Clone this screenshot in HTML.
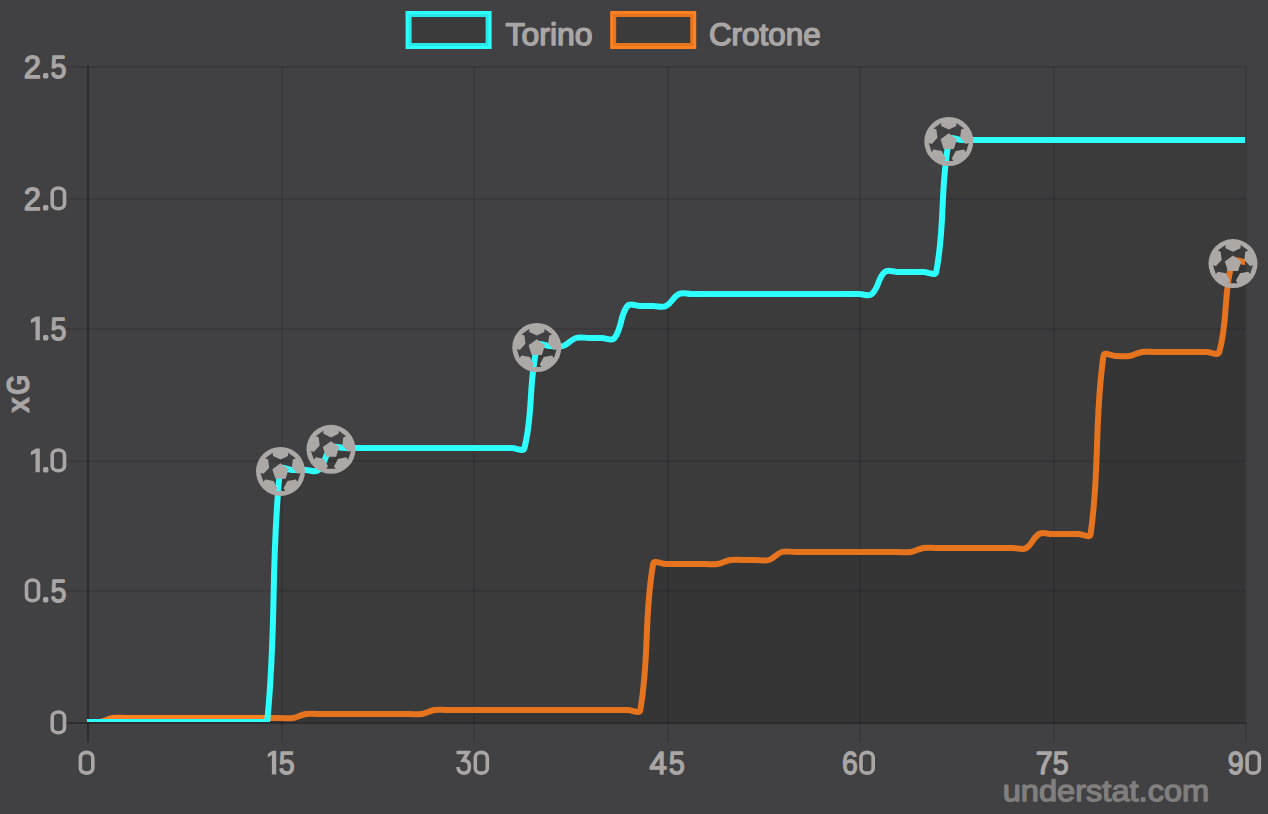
<!DOCTYPE html>
<html><head><meta charset="utf-8"><title>xG chart</title>
<style>
html,body{margin:0;padding:0;background:#414143;}
body{width:1268px;height:814px;overflow:hidden;font-family:"Liberation Sans",sans-serif;}
svg{display:block;font-family:"Liberation Sans",sans-serif;text-rendering:geometricPrecision;}
</style></head><body>
<svg width="1268" height="814" viewBox="0 0 1268 814">
<defs>
<clipPath id="ca"><rect x="87.0" y="66.0" width="1158.0" height="656.0"/></clipPath>
</defs>
<rect width="1268" height="814" fill="#414143"/>
<!-- grid -->
<rect x="67" y="66" width="1179" height="2" fill="rgba(0,0,0,0.10)"/>
<rect x="67" y="198" width="1179" height="2" fill="rgba(0,0,0,0.10)"/>
<rect x="67" y="328" width="1179" height="2" fill="rgba(0,0,0,0.10)"/>
<rect x="67" y="460" width="1179" height="2" fill="rgba(0,0,0,0.10)"/>
<rect x="67" y="590" width="1179" height="2" fill="rgba(0,0,0,0.10)"/>
<rect x="67" y="722" width="1179" height="2" fill="rgba(0,0,0,0.31)"/>
<rect x="87" y="66" width="2" height="676" fill="rgba(0,0,0,0.31)"/>
<rect x="281" y="66" width="2" height="676" fill="rgba(0,0,0,0.10)"/>
<rect x="473" y="66" width="2" height="676" fill="rgba(0,0,0,0.10)"/>
<rect x="667" y="66" width="2" height="676" fill="rgba(0,0,0,0.10)"/>
<rect x="859" y="66" width="2" height="676" fill="rgba(0,0,0,0.10)"/>
<rect x="1053" y="66" width="2" height="676" fill="rgba(0,0,0,0.10)"/>
<rect x="1245" y="66" width="2" height="676" fill="rgba(0,0,0,0.10)"/>
<!-- Crotone -->
<g clip-path="url(#ca)">
<path d="M87.00 722.00L99.87 722.00C105.13 721.18 107.47 718.82 112.73 718.00C117.76 717.22 120.45 718.00 125.60 718.00L138.47 718.00L151.33 718.00L164.20 718.00L177.07 718.00L189.93 718.00L202.80 718.00L215.67 718.00L228.53 718.00L241.40 718.00L254.27 718.00L267.13 718.00L280.00 718.00C285.15 718.00 287.84 718.78 292.87 718.00C298.13 717.18 300.47 714.82 305.73 714.00C310.76 713.22 313.45 714.00 318.60 714.00L331.47 714.00L344.33 714.00L357.20 714.00L370.07 714.00L382.93 714.00L395.80 714.00L408.67 714.00C413.81 714.00 416.51 714.78 421.53 714.00C426.80 713.18 429.13 710.82 434.40 710.00C439.43 709.22 442.12 710.00 447.27 710.00L460.13 710.00L473.00 710.00L485.87 710.00L498.73 710.00L511.60 710.00L524.47 710.00L537.33 710.00L550.20 710.00L563.07 710.00L575.93 710.00L588.80 710.00L601.67 710.00L614.53 710.00L627.40 710.00C632.55 710.00 639.44 714.71 640.27 710.00C649.73 656.31 643.67 617.69 653.13 564.00C653.96 559.29 660.85 564.00 666.00 564.00L678.87 564.00L691.73 564.00L704.60 564.00C709.75 564.00 712.44 564.78 717.47 564.00C722.73 563.18 725.07 560.82 730.33 560.00C735.36 559.22 738.05 560.00 743.20 560.00L756.07 560.00C761.21 560.00 764.21 561.47 768.93 560.00C774.50 558.27 776.23 553.73 781.80 552.00C786.53 550.53 789.52 552.00 794.67 552.00L807.53 552.00L820.40 552.00L833.27 552.00L846.13 552.00L859.00 552.00L871.87 552.00L884.73 552.00L897.60 552.00C902.75 552.00 905.44 552.78 910.47 552.00C915.73 551.18 918.07 548.82 923.33 548.00C928.36 547.22 931.05 548.00 936.20 548.00L949.07 548.00L961.93 548.00L974.80 548.00L987.67 548.00L1000.53 548.00L1013.40 548.00C1018.55 548.00 1022.11 550.26 1026.27 548.00C1032.41 544.66 1032.99 537.34 1039.13 534.00C1043.29 531.74 1046.85 534.00 1052.00 534.00L1064.87 534.00L1077.73 534.00C1082.88 534.00 1089.91 538.79 1090.60 534.00C1100.20 467.59 1093.87 422.41 1103.47 356.00C1104.16 351.21 1111.19 356.00 1116.33 356.00C1121.48 356.00 1124.17 356.78 1129.20 356.00C1134.47 355.18 1136.80 352.82 1142.07 352.00C1147.09 351.22 1149.79 352.00 1154.93 352.00L1167.80 352.00L1180.67 352.00L1193.53 352.00L1206.40 352.00C1211.55 352.00 1217.99 356.46 1219.27 352.00C1228.28 320.46 1223.12 293.54 1232.13 262.00C1233.41 257.54 1239.85 262.00 1245.00 262.00L1245.00 722.00L87.00 722.00Z" fill="rgba(0,0,0,0.09)"/>
<path d="M87.00 722.00L99.87 722.00C105.13 721.18 107.47 718.82 112.73 718.00C117.76 717.22 120.45 718.00 125.60 718.00L138.47 718.00L151.33 718.00L164.20 718.00L177.07 718.00L189.93 718.00L202.80 718.00L215.67 718.00L228.53 718.00L241.40 718.00L254.27 718.00L267.13 718.00L280.00 718.00C285.15 718.00 287.84 718.78 292.87 718.00C298.13 717.18 300.47 714.82 305.73 714.00C310.76 713.22 313.45 714.00 318.60 714.00L331.47 714.00L344.33 714.00L357.20 714.00L370.07 714.00L382.93 714.00L395.80 714.00L408.67 714.00C413.81 714.00 416.51 714.78 421.53 714.00C426.80 713.18 429.13 710.82 434.40 710.00C439.43 709.22 442.12 710.00 447.27 710.00L460.13 710.00L473.00 710.00L485.87 710.00L498.73 710.00L511.60 710.00L524.47 710.00L537.33 710.00L550.20 710.00L563.07 710.00L575.93 710.00L588.80 710.00L601.67 710.00L614.53 710.00L627.40 710.00C632.55 710.00 639.44 714.71 640.27 710.00C649.73 656.31 643.67 617.69 653.13 564.00C653.96 559.29 660.85 564.00 666.00 564.00L678.87 564.00L691.73 564.00L704.60 564.00C709.75 564.00 712.44 564.78 717.47 564.00C722.73 563.18 725.07 560.82 730.33 560.00C735.36 559.22 738.05 560.00 743.20 560.00L756.07 560.00C761.21 560.00 764.21 561.47 768.93 560.00C774.50 558.27 776.23 553.73 781.80 552.00C786.53 550.53 789.52 552.00 794.67 552.00L807.53 552.00L820.40 552.00L833.27 552.00L846.13 552.00L859.00 552.00L871.87 552.00L884.73 552.00L897.60 552.00C902.75 552.00 905.44 552.78 910.47 552.00C915.73 551.18 918.07 548.82 923.33 548.00C928.36 547.22 931.05 548.00 936.20 548.00L949.07 548.00L961.93 548.00L974.80 548.00L987.67 548.00L1000.53 548.00L1013.40 548.00C1018.55 548.00 1022.11 550.26 1026.27 548.00C1032.41 544.66 1032.99 537.34 1039.13 534.00C1043.29 531.74 1046.85 534.00 1052.00 534.00L1064.87 534.00L1077.73 534.00C1082.88 534.00 1089.91 538.79 1090.60 534.00C1100.20 467.59 1093.87 422.41 1103.47 356.00C1104.16 351.21 1111.19 356.00 1116.33 356.00C1121.48 356.00 1124.17 356.78 1129.20 356.00C1134.47 355.18 1136.80 352.82 1142.07 352.00C1147.09 351.22 1149.79 352.00 1154.93 352.00L1167.80 352.00L1180.67 352.00L1193.53 352.00L1206.40 352.00C1211.55 352.00 1217.99 356.46 1219.27 352.00C1228.28 320.46 1223.12 293.54 1232.13 262.00C1233.41 257.54 1239.85 262.00 1245.00 262.00" fill="none" stroke="#fd8021" stroke-width="6" stroke-linejoin="miter" stroke-linecap="butt"/>
</g>
<!-- Torino -->
<g clip-path="url(#ca)">
<path d="M87.00 722.00L99.87 722.00L112.73 722.00L125.60 722.00L138.47 722.00L151.33 722.00L164.20 722.00L177.07 722.00L189.93 722.00L202.80 722.00L215.67 722.00L228.53 722.00L241.40 722.00L254.27 722.00L267.13 722.00C276.93 626.09 270.21 565.91 280.00 470.00C280.50 465.11 287.72 470.00 292.87 470.00L305.73 470.00C310.88 470.00 315.15 472.95 318.60 470.00C325.44 464.15 324.63 453.85 331.47 448.00C334.92 445.05 339.19 448.00 344.33 448.00L357.20 448.00L370.07 448.00L382.93 448.00L395.80 448.00L408.67 448.00L421.53 448.00L434.40 448.00L447.27 448.00L460.13 448.00L473.00 448.00L485.87 448.00L498.73 448.00L511.60 448.00C516.75 448.00 523.32 452.54 524.47 448.00C533.62 411.74 528.18 382.26 537.33 346.00C538.48 341.46 545.05 346.00 550.20 346.00C555.35 346.00 558.34 347.47 563.07 346.00C568.63 344.27 570.37 339.73 575.93 338.00C580.66 336.53 583.65 338.00 588.80 338.00L601.67 338.00C606.81 338.00 611.74 341.48 614.53 338.00C622.03 328.68 619.90 315.32 627.40 306.00C630.20 302.52 635.12 306.00 640.27 306.00L653.13 306.00C658.28 306.00 661.65 308.03 666.00 306.00C671.95 303.23 672.92 296.77 678.87 294.00C683.21 291.97 686.59 294.00 691.73 294.00L704.60 294.00L717.47 294.00L730.33 294.00L743.20 294.00L756.07 294.00L768.93 294.00L781.80 294.00L794.67 294.00L807.53 294.00L820.40 294.00L833.27 294.00L846.13 294.00L859.00 294.00C864.15 294.00 868.41 296.95 871.87 294.00C878.71 288.15 877.89 277.85 884.73 272.00C888.19 269.05 892.45 272.00 897.60 272.00L910.47 272.00L923.33 272.00C928.48 272.00 935.29 276.67 936.20 272.00C945.58 223.87 939.68 188.13 949.07 140.00C949.98 135.33 956.79 140.00 961.93 140.00L974.80 140.00L987.67 140.00L1000.53 140.00L1013.40 140.00L1026.27 140.00L1039.13 140.00L1052.00 140.00L1064.87 140.00L1077.73 140.00L1090.60 140.00L1103.47 140.00L1116.33 140.00L1129.20 140.00L1142.07 140.00L1154.93 140.00L1167.80 140.00L1180.67 140.00L1193.53 140.00L1206.40 140.00L1219.27 140.00L1232.13 140.00L1245.00 140.00L1245.00 722.00L87.00 722.00Z" fill="rgba(0,0,0,0.09)"/>
<path d="M87.00 722.00L99.87 722.00L112.73 722.00L125.60 722.00L138.47 722.00L151.33 722.00L164.20 722.00L177.07 722.00L189.93 722.00L202.80 722.00L215.67 722.00L228.53 722.00L241.40 722.00L254.27 722.00L267.13 722.00C276.93 626.09 270.21 565.91 280.00 470.00C280.50 465.11 287.72 470.00 292.87 470.00L305.73 470.00C310.88 470.00 315.15 472.95 318.60 470.00C325.44 464.15 324.63 453.85 331.47 448.00C334.92 445.05 339.19 448.00 344.33 448.00L357.20 448.00L370.07 448.00L382.93 448.00L395.80 448.00L408.67 448.00L421.53 448.00L434.40 448.00L447.27 448.00L460.13 448.00L473.00 448.00L485.87 448.00L498.73 448.00L511.60 448.00C516.75 448.00 523.32 452.54 524.47 448.00C533.62 411.74 528.18 382.26 537.33 346.00C538.48 341.46 545.05 346.00 550.20 346.00C555.35 346.00 558.34 347.47 563.07 346.00C568.63 344.27 570.37 339.73 575.93 338.00C580.66 336.53 583.65 338.00 588.80 338.00L601.67 338.00C606.81 338.00 611.74 341.48 614.53 338.00C622.03 328.68 619.90 315.32 627.40 306.00C630.20 302.52 635.12 306.00 640.27 306.00L653.13 306.00C658.28 306.00 661.65 308.03 666.00 306.00C671.95 303.23 672.92 296.77 678.87 294.00C683.21 291.97 686.59 294.00 691.73 294.00L704.60 294.00L717.47 294.00L730.33 294.00L743.20 294.00L756.07 294.00L768.93 294.00L781.80 294.00L794.67 294.00L807.53 294.00L820.40 294.00L833.27 294.00L846.13 294.00L859.00 294.00C864.15 294.00 868.41 296.95 871.87 294.00C878.71 288.15 877.89 277.85 884.73 272.00C888.19 269.05 892.45 272.00 897.60 272.00L910.47 272.00L923.33 272.00C928.48 272.00 935.29 276.67 936.20 272.00C945.58 223.87 939.68 188.13 949.07 140.00C949.98 135.33 956.79 140.00 961.93 140.00L974.80 140.00L987.67 140.00L1000.53 140.00L1013.40 140.00L1026.27 140.00L1039.13 140.00L1052.00 140.00L1064.87 140.00L1077.73 140.00L1090.60 140.00L1103.47 140.00L1116.33 140.00L1129.20 140.00L1142.07 140.00L1154.93 140.00L1167.80 140.00L1180.67 140.00L1193.53 140.00L1206.40 140.00L1219.27 140.00L1232.13 140.00L1245.00 140.00" fill="none" stroke="#2dfffe" stroke-width="6" stroke-linejoin="miter" stroke-linecap="butt"/>
</g>
<!-- goals -->
<path fill="#aba8a6" fill-rule="evenodd" transform="translate(280.50 471.40) scale(24.50)" d="M-1 0A1 1 0 1 0 1 0A1 1 0 1 0 -1 0ZM-0.000 -0.485L0.307 -0.630L0.315 -0.757L0.623 -0.534L0.504 -0.487L0.461 -0.150L0.694 0.097L0.818 0.066L0.700 0.427L0.619 0.329L0.285 0.392L0.122 0.690L0.190 0.798L-0.190 0.798L-0.122 0.690L-0.285 0.392L-0.619 0.329L-0.700 0.427L-0.818 0.066L-0.694 0.097L-0.461 -0.150L-0.504 -0.487L-0.623 -0.534L-0.315 -0.757L-0.307 -0.630ZM0.000 -0.332L0.335 -0.089L0.207 0.305L-0.207 0.305L-0.335 -0.089Z"/>
<path fill="#aba8a6" fill-rule="evenodd" transform="translate(331.00 449.30) scale(24.50)" d="M-1 0A1 1 0 1 0 1 0A1 1 0 1 0 -1 0ZM-0.000 -0.485L0.307 -0.630L0.315 -0.757L0.623 -0.534L0.504 -0.487L0.461 -0.150L0.694 0.097L0.818 0.066L0.700 0.427L0.619 0.329L0.285 0.392L0.122 0.690L0.190 0.798L-0.190 0.798L-0.122 0.690L-0.285 0.392L-0.619 0.329L-0.700 0.427L-0.818 0.066L-0.694 0.097L-0.461 -0.150L-0.504 -0.487L-0.623 -0.534L-0.315 -0.757L-0.307 -0.630ZM0.000 -0.332L0.335 -0.089L0.207 0.305L-0.207 0.305L-0.335 -0.089Z"/>
<path fill="#aba8a6" fill-rule="evenodd" transform="translate(536.80 347.50) scale(24.50)" d="M-1 0A1 1 0 1 0 1 0A1 1 0 1 0 -1 0ZM-0.000 -0.485L0.307 -0.630L0.315 -0.757L0.623 -0.534L0.504 -0.487L0.461 -0.150L0.694 0.097L0.818 0.066L0.700 0.427L0.619 0.329L0.285 0.392L0.122 0.690L0.190 0.798L-0.190 0.798L-0.122 0.690L-0.285 0.392L-0.619 0.329L-0.700 0.427L-0.818 0.066L-0.694 0.097L-0.461 -0.150L-0.504 -0.487L-0.623 -0.534L-0.315 -0.757L-0.307 -0.630ZM0.000 -0.332L0.335 -0.089L0.207 0.305L-0.207 0.305L-0.335 -0.089Z"/>
<path fill="#aba8a6" fill-rule="evenodd" transform="translate(948.80 141.50) scale(24.50)" d="M-1 0A1 1 0 1 0 1 0A1 1 0 1 0 -1 0ZM-0.000 -0.485L0.307 -0.630L0.315 -0.757L0.623 -0.534L0.504 -0.487L0.461 -0.150L0.694 0.097L0.818 0.066L0.700 0.427L0.619 0.329L0.285 0.392L0.122 0.690L0.190 0.798L-0.190 0.798L-0.122 0.690L-0.285 0.392L-0.619 0.329L-0.700 0.427L-0.818 0.066L-0.694 0.097L-0.461 -0.150L-0.504 -0.487L-0.623 -0.534L-0.315 -0.757L-0.307 -0.630ZM0.000 -0.332L0.335 -0.089L0.207 0.305L-0.207 0.305L-0.335 -0.089Z"/>
<path fill="#aba8a6" fill-rule="evenodd" transform="translate(1233.00 263.60) scale(24.50)" d="M-1 0A1 1 0 1 0 1 0A1 1 0 1 0 -1 0ZM-0.000 -0.485L0.307 -0.630L0.315 -0.757L0.623 -0.534L0.504 -0.487L0.461 -0.150L0.694 0.097L0.818 0.066L0.700 0.427L0.619 0.329L0.285 0.392L0.122 0.690L0.190 0.798L-0.190 0.798L-0.122 0.690L-0.285 0.392L-0.619 0.329L-0.700 0.427L-0.818 0.066L-0.694 0.097L-0.461 -0.150L-0.504 -0.487L-0.623 -0.534L-0.315 -0.757L-0.307 -0.630ZM0.000 -0.332L0.335 -0.089L0.207 0.305L-0.207 0.305L-0.335 -0.089Z"/>
<!-- legend -->
<rect x="408.6" y="14" width="80" height="32" fill="none" stroke="#2dfffe" stroke-width="6"/>
<rect x="408.6" y="14" width="80" height="32" fill="rgba(0,0,0,0.09)"/>
<rect x="613.2" y="14" width="80" height="32" fill="none" stroke="#fd8021" stroke-width="6"/>
<rect x="613.2" y="14" width="80" height="32" fill="rgba(0,0,0,0.09)"/>
<!-- labels -->
<g><title>2.5</title>
<text transform="translate(23.85 78.00) scale(0.9663 1)" font-size="32.00" fill="#aaa6a5" stroke="#aaa6a5" stroke-width="1.40" stroke-linejoin="round">2</text>
<rect x="43.0" y="72.90" width="5.4" height="5.5" rx="1.6" fill="#aaa6a5"/>
<text transform="translate(50.55 78.00) scale(0.8957 1)" font-size="32.00" fill="#aaa6a5" stroke="#aaa6a5" stroke-width="1.40" stroke-linejoin="round">5</text>
</g>
<g><title>2.0</title>
<text transform="translate(23.85 210.00) scale(0.9663 1)" font-size="32.00" fill="#aaa6a5" stroke="#aaa6a5" stroke-width="1.40" stroke-linejoin="round">2</text>
<rect x="43.0" y="204.90" width="5.4" height="5.5" rx="1.6" fill="#aaa6a5"/>
<rect x="52.20" y="188.00" width="12.30" height="20.70" rx="6.15" ry="4.7" fill="none" stroke="#aaa6a5" stroke-width="3.60"/>
</g>
<g><title>1.5</title>
<path fill="#aaa6a5" d="M39.80 316.60L39.80 340.30L35.50 340.30L35.50 320.90L31.00 323.20L31.00 319.50L36.10 316.60Z"/>
<rect x="43.0" y="334.90" width="5.4" height="5.5" rx="1.6" fill="#aaa6a5"/>
<text transform="translate(50.55 340.00) scale(0.8957 1)" font-size="32.00" fill="#aaa6a5" stroke="#aaa6a5" stroke-width="1.40" stroke-linejoin="round">5</text>
</g>
<g><title>1.0</title>
<path fill="#aaa6a5" d="M39.80 448.60L39.80 472.30L35.50 472.30L35.50 452.90L31.00 455.20L31.00 451.50L36.10 448.60Z"/>
<rect x="43.0" y="466.90" width="5.4" height="5.5" rx="1.6" fill="#aaa6a5"/>
<rect x="52.20" y="450.00" width="12.30" height="20.70" rx="6.15" ry="4.7" fill="none" stroke="#aaa6a5" stroke-width="3.60"/>
</g>
<g><title>0.5</title>
<rect x="26.50" y="580.00" width="12.00" height="20.70" rx="6.00" ry="4.7" fill="none" stroke="#aaa6a5" stroke-width="3.60"/>
<rect x="43.0" y="596.90" width="5.4" height="5.5" rx="1.6" fill="#aaa6a5"/>
<text transform="translate(50.55 602.00) scale(0.8957 1)" font-size="32.00" fill="#aaa6a5" stroke="#aaa6a5" stroke-width="1.40" stroke-linejoin="round">5</text>
</g>
<g><title>0</title>
<rect x="52.20" y="712.00" width="12.30" height="20.70" rx="6.15" ry="4.7" fill="none" stroke="#aaa6a5" stroke-width="3.60"/>
</g>
<g><title>0</title>
<rect x="80.40" y="752.40" width="12.40" height="20.70" rx="6.20" ry="4.7" fill="none" stroke="#aaa6a5" stroke-width="3.60"/>
</g>
<g><title>15</title>
<path fill="#aaa6a5" d="M276.20 750.80L276.20 774.40L271.90 774.40L271.90 755.10L267.80 757.40L267.80 753.70L272.50 750.80Z"/>
<text transform="translate(278.65 774.00) scale(0.8957 1)" font-size="32.00" fill="#aaa6a5" stroke="#aaa6a5" stroke-width="1.40" stroke-linejoin="round">5</text>
</g>
<g><title>30</title>
<path transform="translate(456.10 750.60)" d="M0.4 1.95H11.9L7.2 9.7C11.6 9.7 13.3 12.6 13.3 16.1C13.3 20.4 10.9 22.5 7.6 22.5C4.3 22.5 1.9 20.5 1.9 16.3" fill="none" stroke="#aaa6a5" stroke-width="3.6" stroke-linejoin="miter" stroke-miterlimit="6"/>
<rect x="475.30" y="752.40" width="12.00" height="20.70" rx="6.00" ry="4.7" fill="none" stroke="#aaa6a5" stroke-width="3.60"/>
</g>
<g><title>45</title>
<text transform="translate(649.50 774.00) scale(0.9787 1)" font-size="32.00" fill="#aaa6a5" stroke="#aaa6a5" stroke-width="1.40" stroke-linejoin="round">4</text>
<text transform="translate(668.75 774.00) scale(0.9023 1)" font-size="32.00" fill="#aaa6a5" stroke="#aaa6a5" stroke-width="1.40" stroke-linejoin="round">5</text>
</g>
<g><title>60</title>
<text transform="translate(842.07 774.00) scale(0.8861 1)" font-size="32.00" fill="#aaa6a5" stroke="#aaa6a5" stroke-width="1.40" stroke-linejoin="round">6</text>
<rect x="861.00" y="752.40" width="12.20" height="20.70" rx="6.10" ry="4.7" fill="none" stroke="#aaa6a5" stroke-width="3.60"/>
</g>
<g><title>75</title>
<text transform="translate(1035.84 774.00) scale(0.9547 1)" font-size="32.00" fill="#aaa6a5" stroke="#aaa6a5" stroke-width="1.40" stroke-linejoin="round">7</text>
<text transform="translate(1052.65 774.00) scale(0.8957 1)" font-size="32.00" fill="#aaa6a5" stroke="#aaa6a5" stroke-width="1.40" stroke-linejoin="round">5</text>
</g>
<g><title>90</title>
<text transform="translate(1227.76 774.00) scale(0.8986 1)" font-size="32.00" fill="#aaa6a5" stroke="#aaa6a5" stroke-width="1.40" stroke-linejoin="round">9</text>
<rect x="1247.10" y="752.40" width="12.20" height="20.70" rx="6.10" ry="4.7" fill="none" stroke="#aaa6a5" stroke-width="3.60"/>
</g>
<text transform="translate(505.60 45.00) scale(1.0242 1)" font-size="31.20" fill="#aaa6a5" stroke="#aaa6a5" stroke-width="1.40" stroke-linejoin="round">Torino</text>
<text transform="translate(708.91 45.00) scale(1.0079 1)" font-size="31.20" fill="#aaa6a5" stroke="#aaa6a5" stroke-width="1.40" stroke-linejoin="round">Crotone</text>
<g><title>xG</title>
<text transform="translate(28.8 413.2) rotate(-90) translate(0.11 0) scale(0.8986 1)" font-size="32.00" fill="#aaa6a5" font-weight="bold" stroke="#aaa6a5" stroke-width="0.60">x</text>
<text transform="translate(28.8 413.2) rotate(-90) translate(18.22 0) scale(0.8194 1)" font-size="32.00" fill="#aaa6a5" font-weight="bold" stroke="#aaa6a5" stroke-width="0.60">G</text>
</g>
<text transform="translate(1002.75 801.00) scale(1.0933 1)" font-size="29.80" fill="#817f7e" stroke="#817f7e" stroke-width="1.30" stroke-linejoin="round">understat.com</text>
</svg>
</body></html>
